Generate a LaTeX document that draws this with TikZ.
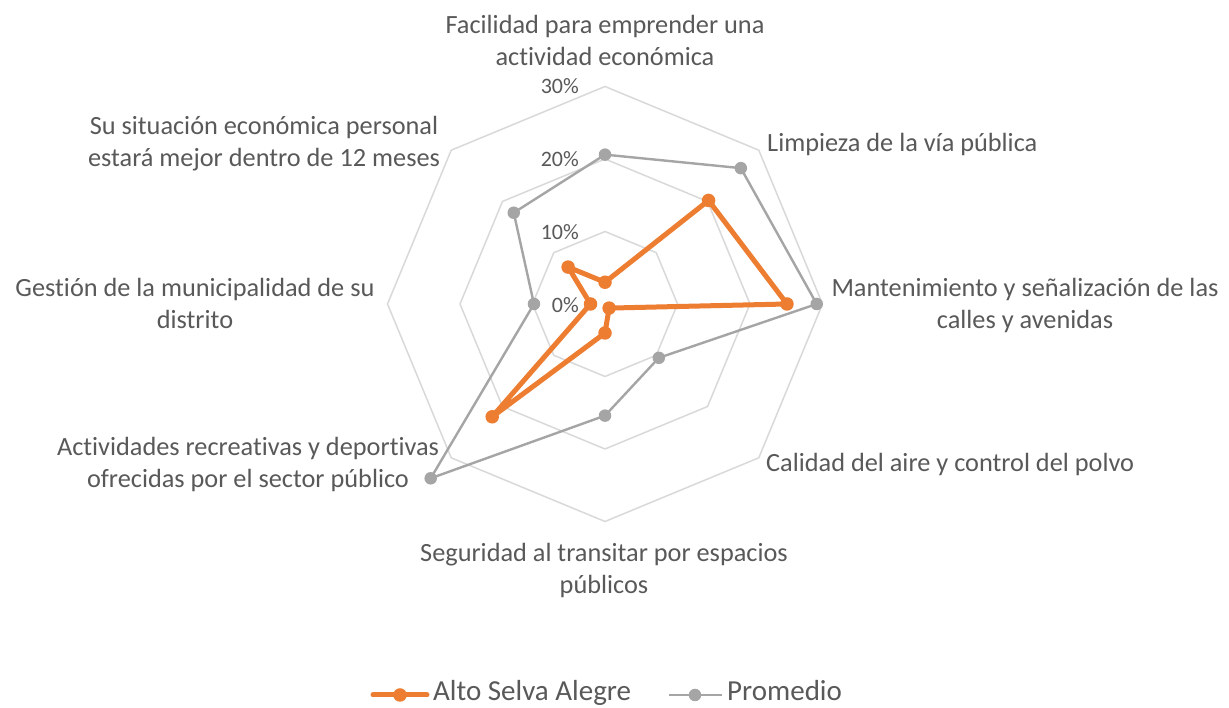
\documentclass[tikz,border=0pt]{standalone}
\usepackage{fontspec}
\setmainfont{Carlito}[Ligatures=NoCommon]
\definecolor{txt}{HTML}{595959}
\definecolor{orng}{HTML}{ED7D31}
\definecolor{gry}{HTML}{A5A5A5}
\definecolor{gridc}{HTML}{D9D9D9}
\begin{document}
\begin{tikzpicture}[x=1pt,y=1pt,
  lbl/.style={font=\fontsize{26.3}{32}\selectfont, text=txt, align=center, inner sep=0pt},
  tick/.style={font=\fontsize{22}{26}\selectfont, text=txt, anchor=east, inner sep=0pt},
  leg/.style={font=\fontsize{29}{34}\selectfont, text=txt, anchor=base west, inner sep=0pt},
  ringline/.style={draw=gridc, line width=1.5pt, line join=round},
  avg/.style={draw=gry, line width=2.4pt, line join=round},
  sel/.style={draw=orng, line width=5pt, line join=round},
  avgdot/.style={circle, fill=gry, minimum size=12.5pt, inner sep=0pt},
  seldot/.style={circle, fill=orng, minimum size=13.5pt, inner sep=0pt}]
\useasboundingbox (0,0) rectangle (1229,708);
\fill[white] (0,0) rectangle (1229,708);
\begin{scope}[shift={(605,404)}]
  % rings
  \foreach \r in {72.5,145,217.5}
    \draw[ringline] (90:\r) -- (45:\r) -- (0:\r) -- (-45:\r) -- (-90:\r) -- (-135:\r) -- (180:\r) -- (135:\r) -- cycle;
  % Promedio points (percent * 7.25)
  \coordinate (a1) at (90:{20.6*7.25});
  \coordinate (a2) at (45:{26.5*7.25});
  \coordinate (a3) at (0:{29.2*7.25});
  \coordinate (a4) at (-45:{10.5*7.25});
  \coordinate (a5) at (-90:{15.4*7.25});
  \coordinate (a6) at (-135:{34.0*7.25});
  \coordinate (a7) at (180:{9.8*7.25});
  \coordinate (a8) at (135:{17.8*7.25});
  % Alto Selva Alegre points
  \coordinate (s1) at (90:{3.0*7.25});
  \coordinate (s2) at (45:{20.2*7.25});
  \coordinate (s3) at (0:{25.1*7.25});
  \coordinate (s4) at (-45:{0.8*7.25});
  \coordinate (s5) at (-90:{4.0*7.25});
  \coordinate (s6) at (-135:{22.0*7.25});
  \coordinate (s7) at (180:{2.0*7.25});
  \coordinate (s8) at (135:{7.2*7.25});
\end{scope}
% tick labels
\node[tick] (t30) at (579,622) {30\%};
\node[tick] (t20) at (579,549) {20\%};
\node[tick] (t10) at (579,476) {10\%};
\node[tick] (t0) at (579,403) {0\%};
% series
\draw[avg] (a1) -- (a2) -- (a3) -- (a4) -- (a5) -- (a6) -- (a7) -- (a8) -- cycle;
\foreach \i in {1,...,8} \node[avgdot] (ad\i) at (a\i) {};
\draw[sel] (s1) -- (s2) -- (s3) -- (s4) -- (s5) -- (s6) -- (s7) -- (s8) -- cycle;
\foreach \i in {1,...,8} \node[seldot] (sd\i) at (s\i) {};
% axis labels
\node[lbl] (lFac) at (605,668) {Facilidad para emprender una\\actividad económica};
\node[lbl, anchor=base west] (lLim) at (767,556) {Limpieza de la vía pública};
\node[lbl] (lMan) at (1025,402.5) {Mantenimiento y señalización de las\\calles y avenidas};
\node[lbl, anchor=base west] (lCal) at (766,236) {Calidad del aire y control del polvo};
\node[lbl] (lSeg) at (604,138) {Seguridad al transitar por espacios\\públicos};
\node[lbl] (lAct) at (248,243.5) {Actividades recreativas y deportivas\\ofrecidas por el sector público};
\node[lbl] (lGes) at (195,405) {Gestión de la municipalidad de su\\distrito};
\node[lbl] (lSu) at (264,564) {Su situación económica personal\\estará mejor dentro de 12 meses};
% legend
\coordinate (l1a) at (373,13); \coordinate (l1b) at (427,13);
\draw[sel, line cap=round] (l1a) -- (l1b);
\node[seldot] (l1d) at (400,13) {};
\node[leg] (l1t) at (433,7) {Alto Selva Alegre};
\coordinate (l2a) at (669,13); \coordinate (l2b) at (722,13);
\draw[avg] (l2a) -- (l2b);
\node[avgdot] (l2d) at (695,13) {};
\node[leg] (l2t) at (727,7) {Promedio};
\end{tikzpicture}
\end{document}
